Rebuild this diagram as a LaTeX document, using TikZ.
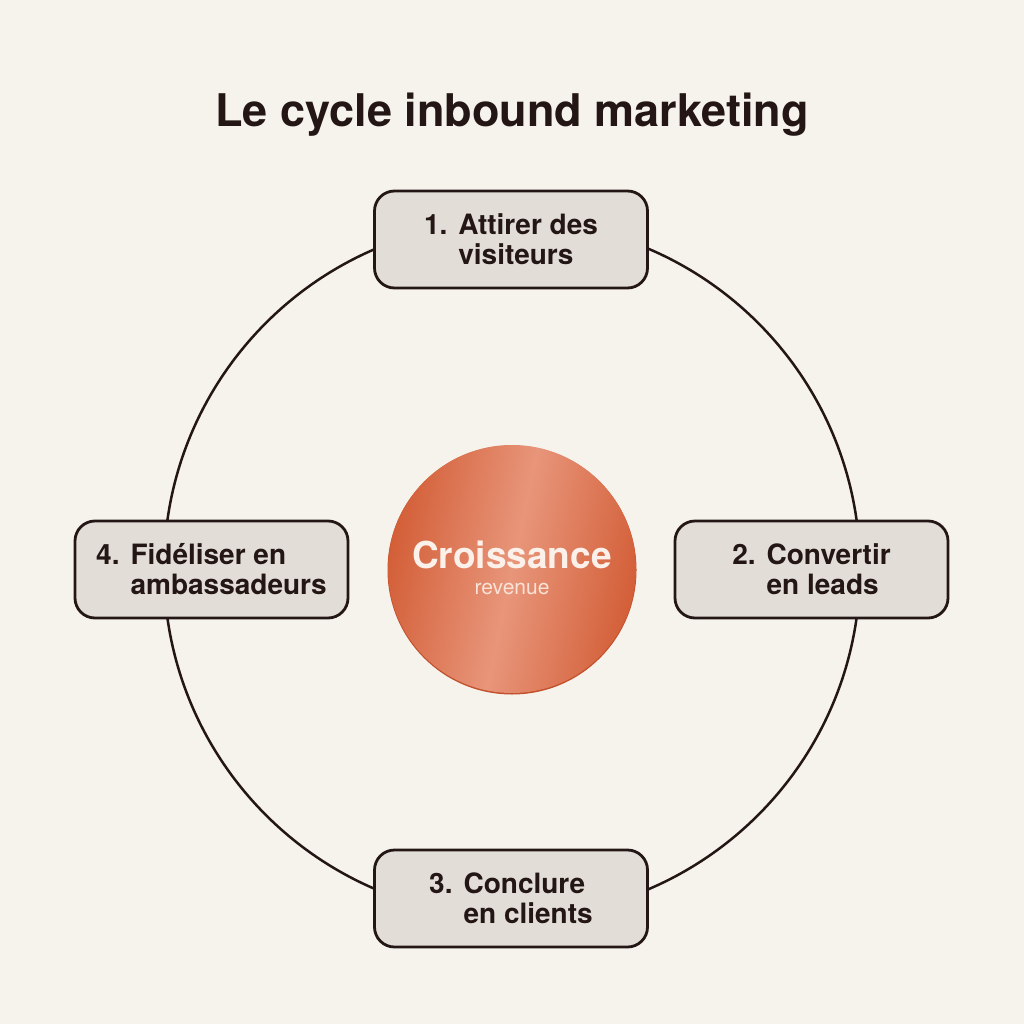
\documentclass[tikz,border=0pt]{standalone}
\usepackage{fontspec}
\setmainfont{TeX Gyre Heros}
\definecolor{bg}{HTML}{F5F3EB}
\definecolor{boxfill}{HTML}{E2DED7}
\definecolor{ink}{HTML}{231615}
\definecolor{orD}{HTML}{D35F38}
\definecolor{orL}{HTML}{E8957A}
\definecolor{orS}{HTML}{C2502C}
\definecolor{cream}{HTML}{FBF1EA}
\definecolor{creamB}{HTML}{F9E2D6}
\pgfdeclarehorizontalshading{orb}{100bp}{color(0bp)=(orD); color(25bp)=(orD); color(50bp)=(orL); color(75bp)=(orD); color(100bp)=(orD)}
\tikzset{
  stage/.style={draw=ink, line width=2.8pt, fill=boxfill, rounded corners=20pt,
    minimum width=273pt, minimum height=97pt, inner sep=0pt,
    font=\fontsize{28}{30}\selectfont\bfseries, text=ink},
  ring/.style={draw=ink, line width=2.5pt},
}
\newcommand{\stagetext}[3]{\raisebox{-4pt}[\height][\depth]{\begin{tabular}{@{}l@{\hspace{11pt}}l@{}}#1 & #2\\ & #3\end{tabular}}}
\begin{document}
\begin{tikzpicture}[x=1pt,y=-1pt]
\useasboundingbox (0,0) rectangle (1024,1024);
\fill[bg] (0,0) rectangle (1024,1024);
\node[anchor=base, text=ink, font=\fontsize{45}{50}\selectfont\bfseries] (title) at (512,127) {Le cycle inbound marketing};
\coordinate (c) at (512,569);
\draw[ring] (c) circle[radius=348];
\node[stage] (s1) at (511,239.5) {\stagetext{1.}{Attirer des}{visiteurs}};
\node[stage] (s2) at (811.5,569.5) {\stagetext{2.}{Convertir}{en leads}};
\node[stage] (s3) at (511,898.5) {\stagetext{3.}{Conclure}{en clients}};
\node[stage] (s4) at (211.5,569.5) {\stagetext{4.}{Fidéliser en}{ambassadeurs}};
\fill[orS] (512,570) circle[radius=124.5];
\shade[shading=orb, shading angle=-12] (c) circle[radius=124];
\node[anchor=base, text=cream, font=\fontsize{37}{40}\selectfont\bfseries] (gr) at (512,568) {Croissance};
\node[anchor=base, text=creamB, font=\fontsize{21}{24}\selectfont] (rev) at (512,594) {revenue};
\end{tikzpicture}
\end{document}
